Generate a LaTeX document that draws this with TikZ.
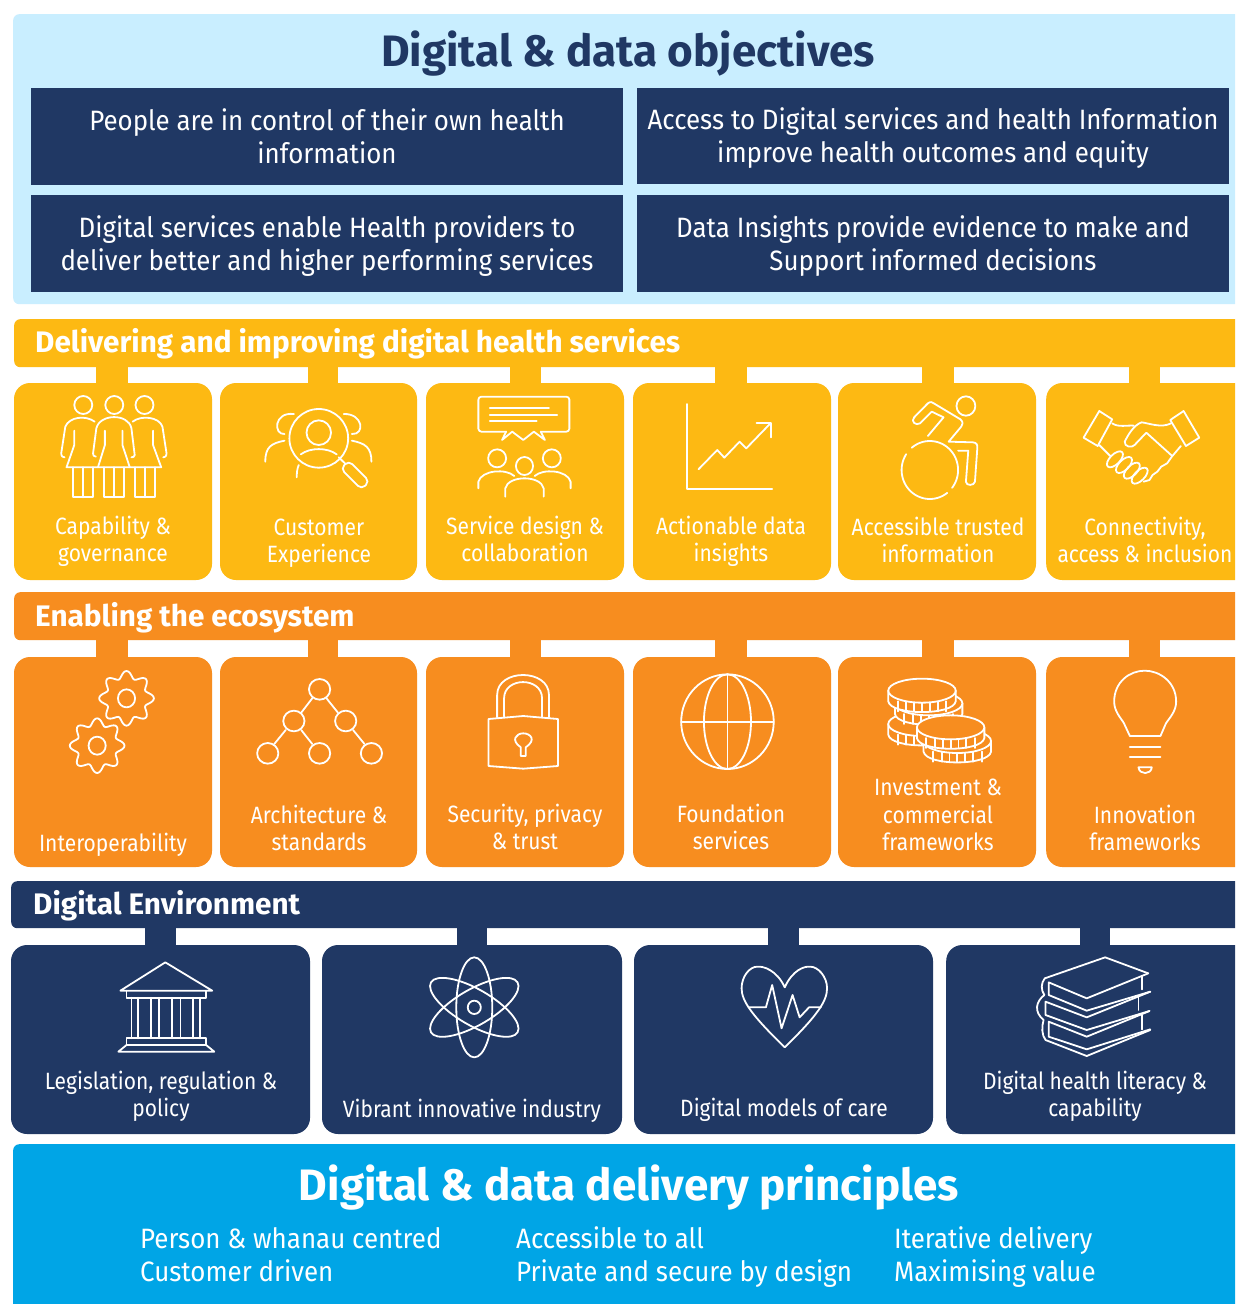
\documentclass[tikz,border=0pt]{standalone}
\usepackage{fontspec}
\setmainfont{Fira Sans}[FakeStretch=0.925,BoldFeatures={FakeStretch=1}]
\newfontfamily\lblfont{Fira Sans}[FakeStretch=0.89]
\definecolor{skyp}{HTML}{C9EEFF}
\definecolor{navy}{HTML}{203864}
\definecolor{amber}{HTML}{FDB913}
\definecolor{orng}{HTML}{F78D1F}
\definecolor{blu}{HTML}{00A5E6}
\tikzset{
  panel/.style={rectangle,rounded corners=6pt,inner sep=0pt,draw=none},
  objbox/.style={rectangle,fill=navy,inner sep=0pt,minimum width=592pt},
  objtxt/.style={text=white,align=center,inner sep=0pt,font=\fontsize{28}{33}\selectfont},
  card/.style={rectangle,rounded corners=16pt,inner sep=0pt,draw=none,fill=#1},
  lbl/.style={text=white,align=center,inner sep=0pt,font=\lblfont\fontsize{23.6}{27.3}\selectfont},
  bandtxt/.style={text=white,anchor=west,inner sep=0pt,font=\fontsize{29.7}{33}\bfseries\selectfont},
  tab/.style={line width=#1,line cap=butt},
  icon/.style={draw=white,line width=1.8pt,line join=round,line cap=round},
  zl/.style 2 args={shift={(#1,#2)},x=.40816pt,y=-.33333pt},
  zr/.style 2 args={shift={(#1,#2)},x=.3922pt,y=-.33333pt}
}
\newcommand\ICarc[7][]{\draw[icon,#1] plot[domain=#6:#7,samples=40] ({#2+#4*cos(\x)},{#3+#5*sin(\x)});}
\newcommand\ICgear[2]{%
  \draw[icon] plot[domain=0:360,samples=121,smooth] ({#1+67*(0.87+0.13*cos(8*\x))*cos(\x)},{#2+82*(0.87+0.13*cos(8*\x))*sin(\x)}) -- cycle;
  \draw[icon] (#1,#2) ellipse[x radius=21,y radius=27];}
\newcommand\ICcoin[3]{% cx cy fill
  \draw[icon,fill=#3] (#1-86,#2) -- (#1-86,#2+32) .. controls (#1-80,#2+75) and (#1+80,#2+75) .. (#1+86,#2+32) -- (#1+86,#2) -- cycle;
  \foreach \t in {-62,-40,-20,0,20,40,62}{\draw[icon] (#1+\t,#2+32) -- (#1+\t,#2+62);}
  \draw[icon,fill=#3] (#1,#2) ellipse[x radius=86,y radius=36];}
\newcommand\ICperson[1]{%
  \draw[icon] (#1,135) ellipse[x radius=22,y radius=27];}
\begin{document}
\begin{tikzpicture}[x=1pt,y=-1pt]
\useasboundingbox (0,0) rectangle (1235,1304);
\clip (0,0) rectangle (1235,1304);
\fill[white] (0,0) rectangle (1235,1304);
% top panel
\node[panel,fill=skyp,minimum width=1240pt,minimum height=290pt,anchor=north west] (top) at (13,14) {};
\node[text=navy,inner sep=0pt,font=\fontsize{44}{50}\bfseries\selectfont] (toptitle) at (628,54) {Digital \& data objectives};
\node[objbox,minimum height=97pt] (o1) at (327,136.5) {};
\node[objbox,minimum height=96pt] (o2) at (933,136) {};
\node[objbox,minimum height=97pt] (o3) at (327,243.5) {};
\node[objbox,minimum height=97pt] (o4) at (933,243.5) {};
\node[objtxt] (ot1) at (327,136.5) {People are in control of their own health\\information};
\node[objtxt] (ot2) at (933,138) {Access to Digital services and health Information\\improve health outcomes and equity};
\node[objtxt] (ot3) at (327,246.5) {Digital services enable Health providers to\\deliver better and higher performing services};
\node[objtxt] (ot4) at (933,246.5) {Data Insights provide evidence to make and\\Support informed decisions};
% band 1
\coordinate (p11) at (112,360); \coordinate (p12) at (323,360); \coordinate (p13) at (525,360);
\coordinate (p14) at (731,360); \coordinate (p15) at (938,360); \coordinate (p16) at (1144.5,360);
\node[card=amber,minimum width=198pt,minimum height=197pt] (c11) at (113,481.5) {};
\node[card=amber,minimum width=197pt,minimum height=197pt] (c12) at (318.5,481.5) {};
\node[card=amber,minimum width=198pt,minimum height=197pt] (c13) at (525,481.5) {};
\node[card=amber,minimum width=198pt,minimum height=197pt] (c14) at (732,481.5) {};
\node[card=amber,minimum width=198pt,minimum height=197pt] (c15) at (937,481.5) {};
\node[card=amber,minimum width=215pt,minimum height=197pt,anchor=west] (c16) at (1046,481.5) {};
\foreach \n/\w in {1/32pt,2/30pt,3/31pt,4/32pt,5/32pt,6/31pt}{
  \draw[tab=\w,draw=amber] (p1\n) -- (p1\n |- c1\n.north);}
\node[panel,fill=amber,minimum width=1240pt,minimum height=48pt,anchor=north west] (b1) at (14,319) {};
\node[bandtxt] (b1t) at (35,344) {Delivering and improving digital health services};
\node[lbl] (t11) at (113,541) {Capability \&\\governance};
\node[lbl] (t12) at (319,543) {Customer\\Experience};
\node[lbl] (t13) at (525,539) {Service design \&\\collaboration};
\node[lbl] (t14) at (731,541.5) {Actionable data\\insights};
\node[lbl] (t15) at (938,540) {Accessible trusted\\information};
\node[lbl] (t16) at (1145,540) {Connectivity,\\access \& inclusion};
% band 2
\coordinate (p21) at (112,633); \coordinate (p22) at (323,633); \coordinate (p23) at (525,633);
\coordinate (p24) at (731,633); \coordinate (p25) at (938,633); \coordinate (p26) at (1144.5,633);
\node[card=orng,minimum width=198pt,minimum height=210pt] (c21) at (113,762) {};
\node[card=orng,minimum width=197pt,minimum height=210pt] (c22) at (318.5,762) {};
\node[card=orng,minimum width=198pt,minimum height=210pt] (c23) at (525,762) {};
\node[card=orng,minimum width=198pt,minimum height=210pt] (c24) at (732,762) {};
\node[card=orng,minimum width=198pt,minimum height=210pt] (c25) at (937,762) {};
\node[card=orng,minimum width=215pt,minimum height=210pt,anchor=west] (c26) at (1046,762) {};
\foreach \n/\w in {1/32pt,2/30pt,3/31pt,4/32pt,5/32pt,6/31pt}{
  \draw[tab=\w,draw=orng] (p2\n) -- (p2\n |- c2\n.north);}
\node[panel,fill=orng,minimum width=1240pt,minimum height=48pt,anchor=north west] (b2) at (14,592) {};
\node[bandtxt] (b2t) at (35,618) {Enabling the ecosystem};
\node[lbl] (t21) at (113,845) {Interoperability};
\node[lbl] (t22) at (319,828) {Architecture \&\\standards};
\node[lbl] (t23) at (525,827) {Security, privacy\\\& trust};
\node[lbl] (t24) at (731,827) {Foundation\\services};
\node[lbl] (t25) at (938,815) {Investment \&\\commercial\\frameworks};
\node[lbl] (t26) at (1145,828) {Innovation\\frameworks};
% band 3
\coordinate (p31) at (160.5,920); \coordinate (p32) at (472,920); \coordinate (p33) at (783.5,920); \coordinate (p34) at (1095,920);
\node[card=navy,minimum width=299pt,minimum height=189pt] (c31) at (160.5,1039.5) {};
\node[card=navy,minimum width=300pt,minimum height=189pt] (c32) at (472,1039.5) {};
\node[card=navy,minimum width=299pt,minimum height=189pt] (c33) at (783.5,1039.5) {};
\node[card=navy,minimum width=310pt,minimum height=189pt,anchor=west] (c34) at (946,1039.5) {};
\foreach \n/\w in {1/31pt,2/30pt,3/31pt,4/30pt}{
  \draw[tab=\w,draw=navy] (p3\n) -- (p3\n |- c3\n.north);}
\node[panel,fill=navy,minimum width=1240pt,minimum height=47pt,anchor=north west] (b3) at (11,881) {};
\node[bandtxt] (b3t) at (33,906) {Digital Environment};
\node[lbl] (t31) at (161,1096.5) {Legislation, regulation \&\\policy};
\node[lbl] (t32) at (472,1111) {Vibrant innovative industry};
\node[lbl] (t33) at (784,1110) {Digital models of care};
\node[lbl] (t34) at (1095,1096.5) {Digital health literacy \&\\capability};
% bottom panel
\node[panel,fill=blu,minimum width=1240pt,minimum height=170pt,anchor=north west] (bot) at (13,1144) {};
\node[text=white,inner sep=0pt,font=\fontsize{44}{50}\bfseries\selectfont] (bottitle) at (629,1188) {Digital \& data delivery principles};
\node[text=white,align=left,anchor=west,inner sep=0pt,font=\fontsize{28}{33}\selectfont] (pa) at (140,1255) {Person \& whanau centred\\Customer driven};
\node[text=white,align=left,anchor=west,inner sep=0pt,font=\fontsize{28}{33}\selectfont] (pb) at (516,1257) {Accessible to all\\Private and secure by design};
\node[text=white,align=left,anchor=west,inner sep=0pt,font=\fontsize{28}{33}\selectfont] (pc) at (894,1257) {Iterative delivery\\Maximising value};
% ---- icons row 1 left
\begin{scope}[zl={0}{360}]
  % people
  \ICperson{204}\ICperson{280}\ICperson{354}
  \draw[icon] (232,185) .. controls (210,165) and (170,170) .. (160,200) -- (150,280) .. controls (150,290) and (155,292) .. (158,292);
  \draw[icon] (182,212) -- (182,255) -- (163,322) -- (395,322) -- (375,255) -- (375,212);
  \draw[icon] (179,322) -- (179,412) -- (227,412) -- (227,322) (204,322) -- (204,412);
  \draw[icon] (235,290) .. controls (230,290) and (227,285) .. (228,280) -- (236,205) .. controls (245,160) and (315,160) .. (322,205) -- (330,285) .. controls (330,290) and (326,292) .. (322,292);
  \draw[icon] (257,212) -- (257,255) -- (240,322) (318,322) -- (300,255) -- (300,212);
  \draw[icon] (255,322) -- (255,412) -- (303,412) -- (303,322) (280,322) -- (280,412);
  \draw[icon] (325,185) .. controls (345,165) and (390,170) .. (398,200) -- (408,280) .. controls (408,290) and (403,292) .. (400,292);
  \draw[icon] (330,322) -- (330,412) -- (380,412) -- (380,322) (355,322) -- (355,412);
  % customer
  \draw[icon] (781,235) ellipse[x radius=72,y radius=88];
  \draw[icon] (781,218) ellipse[x radius=30,y radius=37];
  \draw[icon] (737,283) .. controls (760,262) and (802,262) .. (825,283);
  \draw[icon] (830,292) -- (845,310);
  \draw[icon,rounded corners=5pt,rotate around={-45:(870,345)}] (834,328) rectangle (906,362);
  \draw[icon] (720,162) .. controls (670,155) and (670,225) .. (697,222);
  \draw[icon] (697,242) .. controls (665,250) and (650,260) .. (650,305);
  \draw[icon] (732,315) .. controls (728,325) and (727,340) .. (727,352);
  \draw[icon] (842,162) .. controls (890,160) and (895,225) .. (862,222);
  \draw[icon] (862,242) .. controls (895,250) and (910,262) .. (910,305);
  % service design
  \draw[icon,rounded corners=3pt] (1240,215) -- (1172,215) -- (1172,110) -- (1395,110) -- (1395,215) -- (1325,215);
  \draw[icon] (1240,215) -- (1230,240) -- (1255,215) -- (1282,240) -- (1308,215) -- (1335,240) -- (1325,215);
  \draw[icon] (1200,145) -- (1345,145) (1200,165) -- (1365,165) (1200,184) -- (1315,184);
  \draw[icon] (1218,295) ellipse[x radius=22,y radius=27];
  \draw[icon] (1285,318) ellipse[x radius=21,y radius=27];
  \draw[icon] (1352,295) ellipse[x radius=22,y radius=27];
  \draw[icon] (1172,385) -- (1172,365) .. controls (1180,330) and (1240,325) .. (1260,348);
  \draw[icon] (1310,348) .. controls (1330,325) and (1390,330) .. (1398,365) -- (1398,385);
  \draw[icon] (1238,410) -- (1238,385) .. controls (1245,345) and (1325,345) .. (1332,385) -- (1332,410);
\end{scope}
% ---- icons row 1 right
\begin{scope}[zr={620}{360}]
  \draw[icon] (170,132) -- (170,388) -- (388,388);
  \draw[icon] (200,328) -- (248,270) -- (266,293) -- (305,245) -- (322,265) -- (382,192);
  \draw[icon] (348,190) -- (385,190) -- (385,232);
  % wheelchair
  \draw[icon] (882,138) ellipse[x radius=24,y radius=29];
  \ICarc{790}{330}{72}{87}{230}{398}
  \ICarc{790}{330}{72}{87}{52}{213}
  \draw[icon] (785,228) -- (825,172) -- (795,155) -- (765,190) .. controls (755,198) and (740,185) .. (750,172) -- (785,130) .. controls (792,124) and (796,126) .. (800,130) -- (868,178) .. controls (875,185) and (875,195) .. (870,200) -- (838,245) -- (900,247) .. controls (910,248) and (912,255) .. (911,265) -- (905,365) .. controls (903,378) and (882,378) .. (882,365) -- (888,272) -- (862,272);
  % handshake
  \draw[icon] (1222,153) -- (1255,178) -- (1218,258) -- (1182,233) -- cycle;
  \draw[icon] (1437,153) -- (1403,180) -- (1443,258) -- (1477,233) -- cycle;
  \draw[icon] (1255,190) .. controls (1270,203) and (1295,195) .. (1310,197);
  \draw[icon] (1405,190) .. controls (1380,205) and (1350,190) .. (1330,187) .. controls (1310,195) and (1295,225) .. (1287,245) .. controls (1285,260) and (1305,265) .. (1312,255) -- (1342,218) -- (1407,287);
  \draw[icon] (1430,258) -- (1407,290) -- (1395,310) -- (1380,320) -- (1370,335) -- (1358,345) -- (1350,360) -- (1335,365);
  \draw[icon] (1222,255) -- (1250,288);
  \foreach \a/\b in {1262/298,1285/315,1305/332,1325/347}{
    \draw[icon,rotate around={45:(\a,\b)}] (\a,\b) ellipse[x radius=26,y radius=15];}
\end{scope}
% ---- icons row 2 left
\begin{scope}[zl={0}{640}]
  \ICgear{310}{175}
  \ICgear{238}{317}
  % tree
  \foreach \a/\b in {783/148,720/243,847/243,656/340,783/340,910/340}{
    \draw[icon] (\a,\b) ellipse[x radius=26,y radius=31];}
  \draw[icon] (765,175) -- (738,218) (800,175) -- (828,218) (700,270) -- (672,312) (738,270) -- (765,312) (865,270) -- (893,312);
  % lock
  \draw[icon] (1197,237) -- (1282,228) -- (1367,237) -- (1367,378) -- (1282,386) -- (1197,378) -- cycle;
  \draw[icon] (1218,232) -- (1218,165) .. controls (1218,85) and (1345,85) .. (1345,165) -- (1345,232);
  \draw[icon] (1235,230) -- (1235,175) .. controls (1235,110) and (1328,110) .. (1328,175) -- (1328,230);
  \draw[icon] (1276,348) -- (1276,322) .. controls (1250,300) and (1265,280) .. (1282,280) .. controls (1300,280) and (1315,300) .. (1288,322) -- (1288,348) -- cycle;
\end{scope}
% ---- icons row 2 right
\begin{scope}[zr={620}{640}]
  \draw[icon] (274,245) ellipse[x radius=118,y radius=142];
  \draw[icon] (274,245) ellipse[x radius=60,y radius=142];
  \draw[icon] (274,103) -- (274,387) (156,245) -- (392,245);
  % coins
  \ICcoin{770}{252}{orng}
  \ICcoin{787}{190}{orng}
  \ICcoin{770}{152}{orng}
  \ICcoin{860}{303}{orng}
  \ICcoin{843}{262}{orng}
  % bulb
  \draw[icon] (1300,288) -- (1378,288) -- (1392,250) .. controls (1400,235) and (1418,215) .. (1418,185) .. controls (1418,125) and (1375,92) .. (1338,92) .. controls (1300,92) and (1260,125) .. (1260,185) .. controls (1260,215) and (1278,235) .. (1285,250) -- cycle;
  \draw[icon] (1300,320) -- (1378,320) (1300,352) -- (1378,352);
  \draw[icon] (1322,382) -- (1356,382) .. controls (1354,405) and (1324,405) .. cycle;
\end{scope}
% ---- icons row 3 left
\begin{scope}[zl={0}{930}]
  \draw[icon] (405,97) -- (295,182) -- (520,182) -- cycle;
  \draw[icon] (310,182) -- (310,203) -- (505,203) -- (505,182);
  \foreach \a in {322,338,370,390,422,442,472,490}{\draw[icon] (\a,203) -- (\a,325);}
  \draw[icon] (310,325) -- (505,325) -- (505,345) -- (310,345) -- cycle;
  \draw[icon] (310,345) -- (290,365) -- (525,365) -- (505,345);
  \foreach \r in {30,-30,90}{
    \draw[icon,rotate around={\r:(1162,232)}] (1162,232) ellipse[x radius=50pt,y radius=18pt];}
  \draw[icon] (1162,232) ellipse[x radius=16,y radius=20];
\end{scope}
% ---- icons row 3 right
\begin{scope}[zr={620}{930}]
  \draw[icon] (420,172) .. controls (400,120) and (365,108) .. (350,110) .. controls (330,110) and (310,140) .. (310,175) .. controls (310,215) and (340,260) .. (420,352) .. controls (500,260) and (528,215) .. (528,175) .. controls (528,140) and (505,110) .. (485,110) .. controls (470,108) and (440,120) .. (420,172) -- cycle;
  \draw[icon] (328,232) -- (372,232) -- (388,165) -- (412,295) -- (440,195) -- (458,262) -- (482,232) -- (512,232);
  % books
  \draw[icon] (1347,130) -- (1237,82) -- (1083,145) .. controls (1073,160) and (1073,180) .. (1082,195);
  \draw[icon] (1347,130) -- (1190,205) -- (1093,157) -- (1093,195) -- (1190,242) -- (1352,185);
  \draw[icon] (1330,140) -- (1330,178);
  \draw[icon] (1352,185) -- (1190,262) -- (1085,215) -- (1085,255) -- (1190,300) -- (1350,243);
  \draw[icon] (1322,200) -- (1322,240);
  \draw[icon] (1350,243) -- (1190,320) -- (1093,275) -- (1093,320) -- (1190,358) -- (1352,298);
  \draw[icon] (1330,255) -- (1330,298);
  \draw[icon] (1352,300) -- (1190,378) -- (1085,330) .. controls (1075,315) and (1075,290) .. (1080,270) .. controls (1055,245) and (1060,215) .. (1082,195);
\end{scope}
\end{tikzpicture}
\end{document}
